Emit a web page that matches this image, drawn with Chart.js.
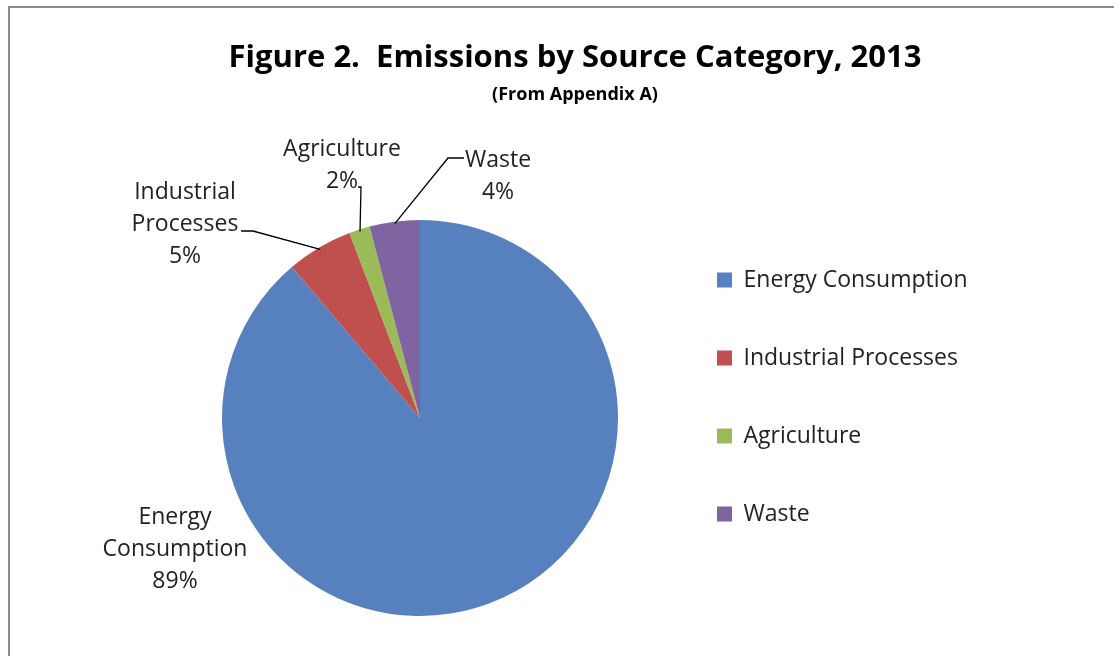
<!DOCTYPE html>
<html>
<head>
<meta charset="utf-8">
<script src="https://cdn.jsdelivr.net/npm/chart.js@4.4.1/dist/chart.umd.min.js"></script>
<style>
  html, body { margin: 0; padding: 0; background: #ffffff; }
  #wrap { position: relative; width: 1114px; height: 656px; overflow: hidden; }
</style>
</head>
<body>
<div id="wrap"><canvas id="c" width="1114" height="656"></canvas></div>
<script>
const categories = ['Energy Consumption', 'Industrial Processes', 'Agriculture', 'Waste'];
const values = [88.8, 5.4, 1.7, 4.1];
const colors = ['#5780BE', '#C0504D', '#9BBB59', '#8064A2'];
const labelLines = [['Energy', 'Consumption'], ['Industrial', 'Processes'], ['Agriculture'], ['Waste']];
const titleText = 'Figure 2.  Emissions by Source Category, 2013';
const subtitleText = '(From Appendix A)';

const FONT = '"Open Sans"';

const layoutCfg = {
  labels: [
    { x: 175, y: 517, leader: null },
    { x: 185, y: 192, leader: [[241, 231], [253, 231]] },
    { x: 342, y: 149, leader: [[358, 187], [361, 187]] },
    { x: 498, y: 160, leader: [[464, 158], [448, 158]] }
  ],
  lineGap: 32
};

const framePlugin = {
  id: 'frame',
  beforeDraw(chart) {
    const ctx = chart.ctx;
    ctx.save();
    ctx.fillStyle = '#ffffff';
    ctx.fillRect(0, 0, chart.width, chart.height);
    ctx.strokeStyle = '#8c8c8c';
    ctx.lineWidth = 2;
    ctx.strokeRect(9, 7, 2000, 2000);
    ctx.restore();
  }
};

const labelPlugin = {
  id: 'pieLabels',
  afterDatasetsDraw(chart) {
    const ctx = chart.ctx;
    const meta = chart.getDatasetMeta(0);
    const data = chart.data.datasets[0].data;
    const total = data.reduce((a, b) => a + b, 0);
    ctx.save();
    meta.data.forEach((arc, i) => {
      const p = arc.getProps(['x', 'y', 'startAngle', 'endAngle', 'outerRadius'], true);
      const mid = (p.startAngle + p.endAngle) / 2;
      const ex = p.x + Math.cos(mid) * (p.outerRadius - 2);
      const ey = p.y + Math.sin(mid) * (p.outerRadius - 2);
      const cfg = layoutCfg.labels[i];
      if (cfg.leader) {
        ctx.strokeStyle = '#000000';
        ctx.lineWidth = 1.3;
        ctx.beginPath();
        ctx.moveTo(cfg.leader[0][0], cfg.leader[0][1]);
        ctx.lineTo(cfg.leader[1][0], cfg.leader[1][1]);
        ctx.lineTo(ex, ey);
        ctx.stroke();
      }
      const lines = labelLines[i].concat([Math.round(data[i] / total * 100) + '%']);
      ctx.fillStyle = '#222222';
      ctx.font = '23px ' + FONT;
      ctx.textAlign = 'center';
      ctx.textBaseline = 'middle';
      lines.forEach((t, k) => ctx.fillText(t, cfg.x, cfg.y + k * layoutCfg.lineGap));
    });
    ctx.restore();
  }
};

new Chart(document.getElementById('c'), {
  type: 'pie',
  data: {
    labels: categories,
    datasets: [{
      data: values,
      backgroundColor: colors,
      borderWidth: 0,
      radius: 198,
      clip: false
    }]
  },
  options: {
    responsive: false,
    animation: false,
    devicePixelRatio: 1,
    layout: { padding: { left: 178, right: 142, top: 0, bottom: 33.5 } },
    plugins: {
      title: {
        display: true,
        text: titleText,
        color: '#000000',
        font: { family: FONT, size: 31, weight: 'bold', lineHeight: 1.2 },
        padding: { top: 40, bottom: 0 }
      },
      subtitle: {
        display: true,
        text: subtitleText,
        color: '#000000',
        font: { family: FONT, size: 18, weight: 'bold', lineHeight: 1.2 },
        padding: { top: 7.0, bottom: 107.7 }
      },
      legend: {
        display: true,
        position: 'right',
        align: 'start',
        fullSize: false,
        maxWidth: 310,
        labels: {
          boxWidth: 15,
          boxHeight: 15,
          padding: 55,
          color: '#222222',
          font: { family: FONT, size: 23 }
        }
      },
      tooltip: { enabled: false }
    }
  },
  plugins: [framePlugin, labelPlugin]
});
</script>
</body>
</html>
